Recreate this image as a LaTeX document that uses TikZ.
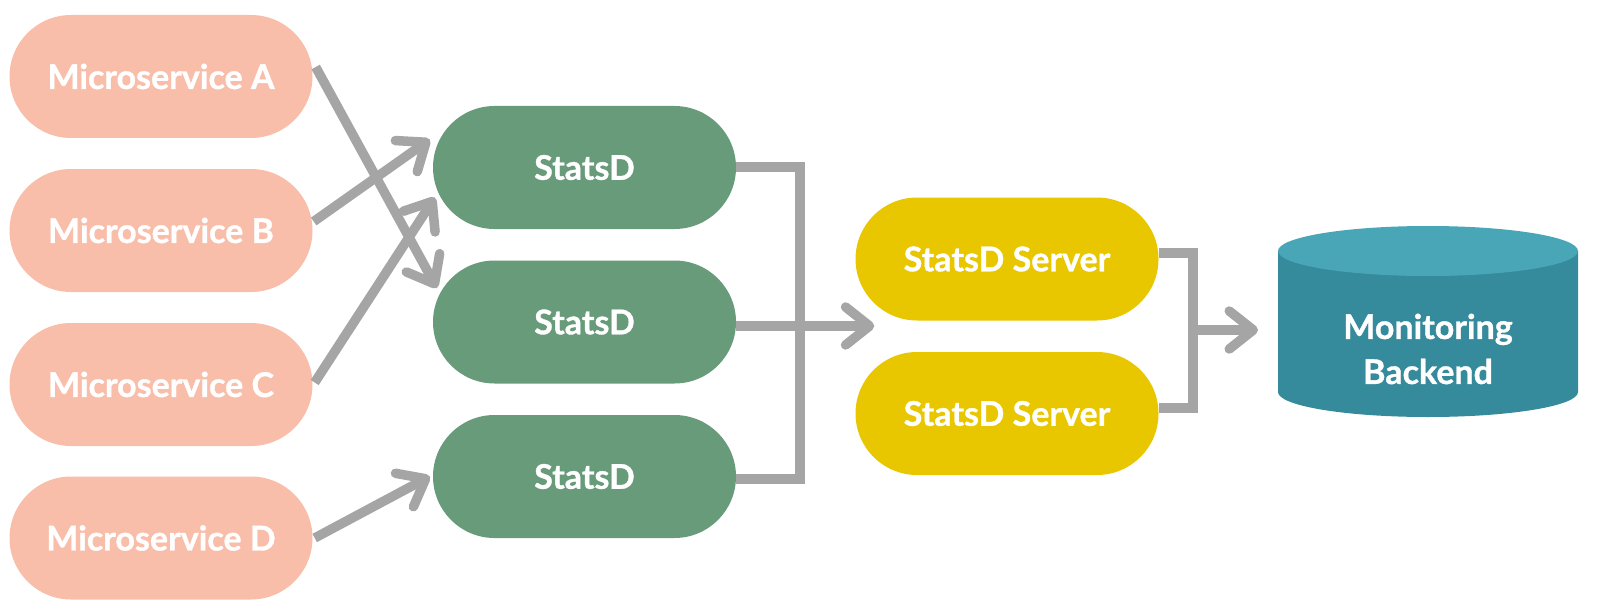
\documentclass[tikz,border=0pt]{standalone}
\usepackage{fontspec}
\setmainfont{Lato}[BoldFeatures={FakeBold=1}]
\usetikzlibrary{shapes.misc,arrows.meta,calc}
\definecolor{salmon}{HTML}{F8BEA9}
\definecolor{sgreen}{HTML}{689B7A}
\definecolor{syellow}{HTML}{E8C600}
\definecolor{cylbody}{HTML}{358A9C}
\definecolor{cyltop}{HTML}{49A6B7}
\definecolor{conn}{HTML}{A5A5A5}
\begin{document}
\begin{tikzpicture}[x=1pt,y=-1pt,
  pill/.style={rounded rectangle, minimum width=303pt, minimum height=123pt, inner sep=0pt,
    text=white, font=\fontsize{34}{40}\selectfont\bfseries},
  ms/.style={pill, fill=salmon},
  sd/.style={pill, fill=sgreen},
  srv/.style={pill, fill=syellow},
  link/.style={draw=conn, line width=9.5pt, line cap=butt},
  arr/.style={link, -{Straight Barb[length=24pt, width=38pt, line cap=round, line join=round]}}
]
\useasboundingbox (0,0) rectangle (1600,615);

% microservices
\node[ms] (msA) at (161,76.5) {Microservice A};
\node[ms] (msB) at (161,230.5) {Microservice B};
\node[ms] (msC) at (161,384.5) {Microservice C};
\node[ms] (msD) at (161,538) {Microservice D};

% statsd agents
\node[sd] (sd1) at (584.5,167.5) {StatsD};
\node[sd] (sd2) at (584.5,322) {StatsD};
\node[sd] (sd3) at (584.5,476.5) {StatsD};

% statsd servers
\node[srv] (srv1) at (1007,259) {StatsD Server};
\node[srv] (srv2) at (1007,413.5) {StatsD Server};

% monitoring backend cylinder
\fill[cylbody] (1278,251) -- (1278,392) arc[start angle=180, end angle=0, x radius=150, y radius=25] -- (1578,251) -- cycle;
\fill[cyltop] (1428,251) ellipse[x radius=150, y radius=25];
\node[text=white, font=\fontsize{34}{45}\selectfont\bfseries, align=center] (mb) at (1428,349) {Monitoring\\Backend};
\coordinate (mbin) at (1258,330);

% arrows microservices -> statsd
\draw[arr] ($(msA.east)+(3,-9.5)$) -- ($(sd2.west)+(4,-34)$);
\draw[arr] ($(msB.east)+(1,-9)$) -- ($(sd1.west)+(-3,-28)$);
\draw[arr] ($(msC.east)+(2,-2)$) -- ($(sd1.west)+(2,30)$);
\draw[arr] ($(msD.east)+(2,0)$) -- ($(sd3.west)+(-3,0)$);

% statsd -> servers
\coordinate (j1) at (800,167);
\coordinate (j3) at (800,479);
\draw[link, line join=miter] ($(sd1.east)+(0,-0.5)$) -- (j1) -- (j3) -- ($(sd3.east)+(0,2.5)$);
\draw[arr] ($(sd2.east)+(0,4)$) -- ($(srv1.west)+(19,67)$);

% servers -> backend
\coordinate (k1) at (1193,253);
\coordinate (k2) at (1193,408);
\draw[link, line join=miter] ($(srv1.east)+(0,-6)$) -- (k1) -- (k2) -- ($(srv2.east)+(0,-5.5)$);
\draw[arr] (1193,330) -- (mbin);
\end{tikzpicture}
\end{document}
